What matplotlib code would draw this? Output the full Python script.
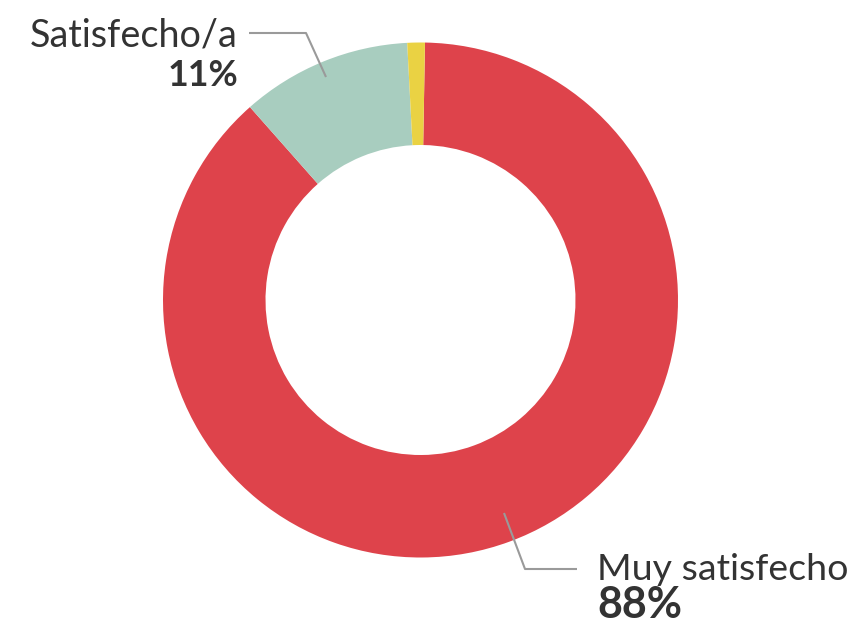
import matplotlib
matplotlib.use("Agg")
import matplotlib.pyplot as plt

categories = ["Muy satisfecho", "Satisfecho/a", "Otro"]
values = [88.2, 10.7, 1.1]
labels_pct = ["88%", "11%", ""]
colors = ["#DE434B", "#A8CDBF", "#EAD243"]

W, H = 852, 626
fig = plt.figure(figsize=(W / 100, H / 100), dpi=100)
ax = fig.add_axes([0, 0, 1, 1])

def py(y):
    return H - y

ax.pie(values, colors=colors, startangle=89, counterclock=False,
       center=(420.5, py(300)), radius=257.5,
       wedgeprops=dict(width=102.5, linewidth=0))
ax.set_xlim(0, W)
ax.set_ylim(0, H)
ax.set_aspect("equal")
ax.axis("off")

txt = "#333333"
line_c = "#9a9a9a"
font = "Lato"

renderer = fig.canvas.get_renderer()

def fit_text(x, y, s, target_w, size, **kw):
    t = ax.text(x, py(y), s, fontsize=size, color=txt, family=font,
                va="baseline", **kw)
    w = t.get_window_extent(renderer=renderer).width
    new = size * target_w / w
    t.set_fontsize(0.75 * new + 0.25 * size)
    return t

fit_text(238, 46, categories[1], 206, 28, ha="right")
fit_text(238, 86, labels_pct[1], 66, 31, ha="right", fontweight="bold")
ax.plot([249, 306, 326], [py(33), py(33), py(77)], color=line_c, lw=1.5,
        solid_capstyle="butt")

fit_text(597, 580, categories[0], 248, 28, ha="left")
fit_text(597, 618, labels_pct[0], 85, 31, ha="left", fontweight="bold")
ax.plot([504, 525, 577], [py(513), py(569), py(569)], color=line_c, lw=1.5,
        solid_capstyle="butt")

fig.savefig("out.png", dpi=100)
